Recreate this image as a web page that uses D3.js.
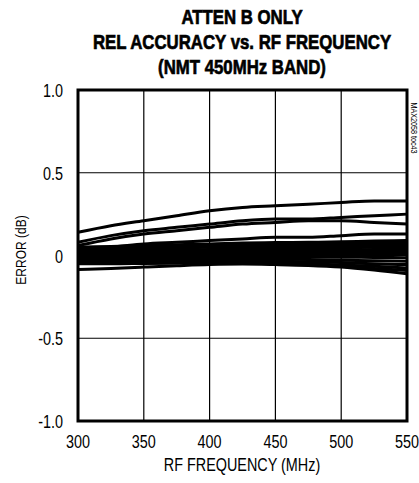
<!DOCTYPE html>
<html>
<head>
<meta charset="utf-8">
<script src="https://cdn.jsdelivr.net/npm/d3@7"></script>
<style>
  body { margin: 0; background: #fff; }
  text { font-family: "Liberation Sans", Arial, sans-serif; fill: #000; }
</style>
</head>
<body>
<div id="chart"></div>
<script>
// chart values
const titleLines = ['ATTEN B ONLY', 'REL ACCURACY vs. RF FREQUENCY', '(NMT 450MHz BAND)'];
const freqs = [300, 325, 350, 375, 400, 425, 450, 475, 500, 525, 550];
const xTicks = [300, 350, 400, 450, 500, 550];
const yTicks = [1.0, 0.5, 0, -0.5, -1.0];
const yTickLabels = ['1.0', '0.5', '0', '-0.5', '-1.0'];

// one array per measured curve (error in dB at each freq)
const curveA = [0.14, 0.18, 0.21, 0.24, 0.27, 0.29, 0.30, 0.31, 0.32, 0.33, 0.33];
const curveB = [0.08, 0.12, 0.15, 0.17, 0.19, 0.21, 0.22, 0.22, 0.23, 0.24, 0.25];
const curveC = [0.06, 0.10, 0.13, 0.15, 0.17, 0.19, 0.20, 0.21, 0.21, 0.20, 0.19];
const curveD = [0.04, 0.05, 0.07, 0.08, 0.09, 0.10, 0.11, 0.11, 0.12, 0.13, 0.13];
const curveL1 = [0.05, 0.055, 0.06, 0.065, 0.07, 0.075, 0.078, 0.08, 0.083, 0.087, 0.09];
const curveL2 = [0.04, 0.045, 0.05, 0.055, 0.06, 0.063, 0.066, 0.07, 0.072, 0.075, 0.078];
const curveL3 = [0.03, 0.035, 0.04, 0.045, 0.05, 0.052, 0.055, 0.058, 0.06, 0.062, 0.065];
const curveL4 = [0.02, 0.025, 0.03, 0.033, 0.036, 0.04, 0.043, 0.045, 0.047, 0.05, 0.05];
const curveL5 = [0.01, 0.015, 0.02, 0.022, 0.025, 0.028, 0.03, 0.032, 0.034, 0.036, 0.037];
const curveL6 = [0.0, 0.005, 0.01, 0.012, 0.014, 0.016, 0.018, 0.02, 0.02, 0.022, 0.022];
const curveL7 = [-0.01, -0.006, -0.003, 0.0, 0.002, 0.004, 0.005, 0.006, 0.006, 0.007, 0.007];
const curveL8 = [-0.02, -0.016, -0.013, -0.01, -0.008, -0.007, -0.007, -0.008, -0.01, -0.012, -0.013];
const curveL9 = [-0.03, -0.027, -0.024, -0.022, -0.02, -0.02, -0.021, -0.024, -0.028, -0.032, -0.035];
const curveL10 = [-0.04, -0.038, -0.036, -0.034, -0.032, -0.032, -0.034, -0.038, -0.043, -0.05, -0.055];
const curveL11 = [-0.048, -0.047, -0.046, -0.044, -0.042, -0.042, -0.045, -0.05, -0.057, -0.065, -0.075];
const curveL12 = [-0.05, -0.05, -0.048, -0.046, -0.045, -0.046, -0.05, -0.056, -0.065, -0.078, -0.09];
const curveE = [-0.085, -0.078, -0.07, -0.062, -0.055, -0.052, -0.055, -0.06, -0.07, -0.088, -0.11];

const curves = [curveA, curveB, curveC, curveD, curveL1, curveL2, curveL3, curveL4, curveL5,
    curveL6, curveL7, curveL8, curveL9, curveL10, curveL11, curveL12, curveE];

const margin = { top: 90, right: 12, bottom: 62, left: 78 };
const width = 419 - margin.left - margin.right;
const height = 483 - margin.top - margin.bottom;
const squeeze = 0.8; // narrow face look

const svg = d3
    .select('#chart')
    .append('svg')
    .attr('width', 419)
    .attr('height', 483);

// title
svg.append('g')
    .selectAll('text')
    .data(titleLines)
    .enter()
    .append('text')
    .attr('transform', (d, i) => 'translate(242,' + (24 + i * 25) + ') scale(0.8,1)')
    .attr('text-anchor', 'middle')
    .style('font-size', '21px')
    .style('font-weight', 'bold')
    .style('stroke', '#000')
    .style('stroke-width', 0.7)
    .text(d => d);

const g = svg.append('g')
    .attr('transform', 'translate(' + margin.left + ',' + margin.top + ')');

const x = d3.scaleLinear().domain([300, 550]).range([0, width]);
const y = d3.scaleLinear().domain([-1, 1]).range([height, 0]);

// grid
g.append('g')
    .selectAll('line')
    .data(xTicks.slice(1, -1))
    .enter()
    .append('line')
    .attr('x1', d => x(d)).attr('x2', d => x(d))
    .attr('y1', 0).attr('y2', height)
    .attr('stroke', '#000')
    .attr('stroke-width', 1.2);

g.append('g')
    .selectAll('line')
    .data(yTicks.slice(1, -1))
    .enter()
    .append('line')
    .attr('x1', 0).attr('x2', width)
    .attr('y1', d => y(d)).attr('y2', d => y(d))
    .attr('stroke', '#000')
    .attr('stroke-width', 1.2);

// curves
const line = d3.line()
    .x((d, i) => x(freqs[i]))
    .y(d => y(d))
    .curve(d3.curveMonotoneX);

g.append('g')
    .selectAll('path')
    .data(curves)
    .enter()
    .append('path')
    .attr('d', line)
    .attr('fill', 'none')
    .attr('stroke', '#000')
    .attr('stroke-width', 3);

// frame
g.append('rect')
    .attr('width', width)
    .attr('height', height)
    .attr('fill', 'none')
    .attr('stroke', '#000')
    .attr('stroke-width', 3);

// tick labels
g.append('g')
    .selectAll('text')
    .data(xTicks)
    .enter()
    .append('text')
    .attr('transform', d => 'translate(' + x(d) + ',' + (height + 27) + ') scale(' + squeeze + ',1)')
    .attr('text-anchor', 'middle')
    .style('font-size', '18px')
    .text(d => d);

g.append('g')
    .selectAll('text')
    .data(yTicks)
    .enter()
    .append('text')
    .attr('transform', d => 'translate(-15,' + (y(d) + 7) + ') scale(' + squeeze + ',1)')
    .attr('text-anchor', 'end')
    .style('font-size', '18px')
    .text((d, i) => yTickLabels[i]);

// axis titles
svg.append('text')
    .attr('transform', 'translate(242,471) scale(' + squeeze + ',1)')
    .attr('text-anchor', 'middle')
    .style('font-size', '18px')
    .text('RF FREQUENCY (MHz)');

svg.append('text')
    .attr('transform', 'translate(26,250) rotate(-90) scale(' + squeeze + ',1)')
    .attr('text-anchor', 'middle')
    .style('font-size', '15px')
    .text('ERROR (dB)');

svg.append('text')
    .attr('transform', 'translate(411,128) rotate(90) scale(' + squeeze + ',1)')
    .attr('text-anchor', 'middle')
    .style('font-size', '9px')
    .text('MAX2058 toc43');
</script>
</body>
</html>
